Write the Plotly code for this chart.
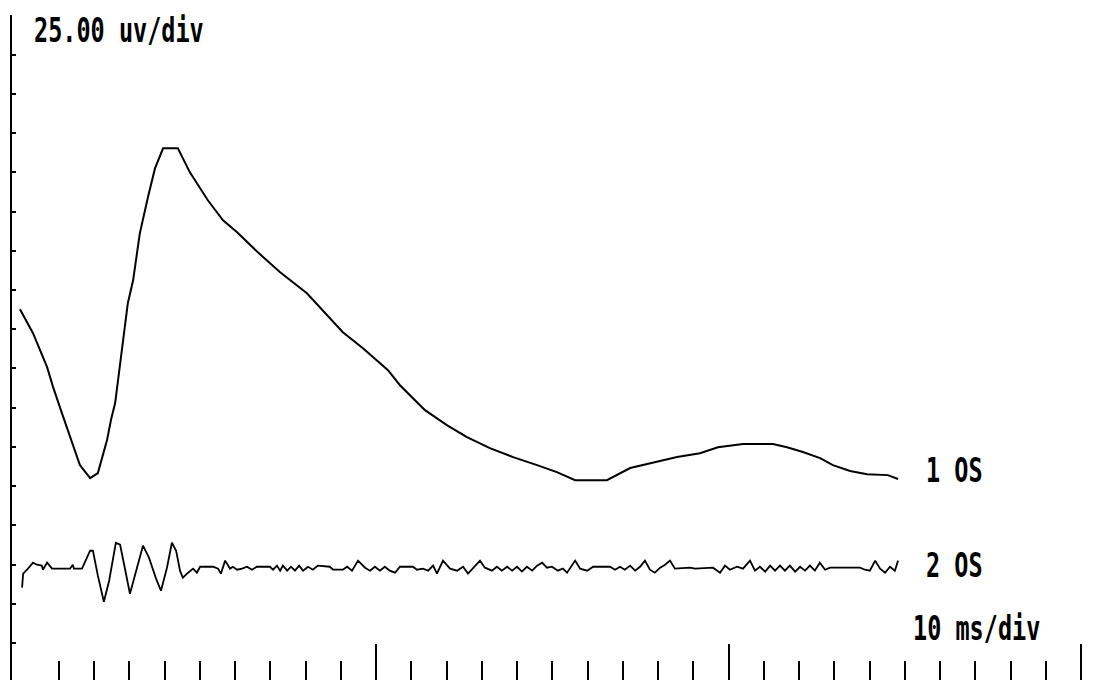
import plotly.graph_objects as go

# Channel 1: flash ERG (a-wave trough, b-wave peak), µV relative to channel baseline
time_1 = [-1.0, 2.7, 6.7, 8.4, 10.9, 13.2, 16.0, 18.9, 21.1, 23.7, 24.8, 26.0, 27.9, 29.6,
          31.1, 33.0, 35.3, 37.3, 39.6, 43.8, 47.2, 52.3, 56.6, 60.6, 66.5, 72.8, 80.4,
          90.6, 96.3, 103.4, 106.8, 113.9, 120.1, 125.8, 132.3, 138.9, 145.7, 151.3,
          156.5, 165.5, 172.1, 177.7, 185.4, 191.9, 197.0, 204.1, 212.6, 216.6, 221.1,
          226.0, 229.6, 234.5, 239.3, 245.2, 248.1]
uv_1 = [112.7, 97.5, 75.8, 63.1, 46.5, 31.2, 13.4, 5.1, 8.3, 29.3, 42.0, 52.9, 84.7, 116.6,
        131.2, 161.1, 184.1, 202.5, 215.3, 215.3, 200.0, 182.2, 169.4, 161.8, 149.0, 136.3,
        122.9, 98.1, 87.9, 73.9, 64.3, 48.4, 38.9, 31.2, 24.2, 18.5, 13.4, 8.9, 3.8, 3.8,
        11.5, 14.6, 18.5, 21.0, 24.8, 26.8, 26.8, 24.8, 21.7, 17.8, 13.4, 9.6, 7.6, 7.0, 4.5]

# Channel 2: oscillatory potentials, µV relative to channel baseline
time_2 = [-0.4, -0.1, 1.0, 2.7, 3.8, 5.2, 5.5, 6.7, 8.1, 13.2, 14.0, 14.3, 16.6, 18.0, 18.9,
          19.7, 21.1, 22.8, 24.3, 26.2, 27.4, 28.5, 30.2, 32.2, 33.9, 35.6, 37.6, 39.0, 40.7,
          42.1, 43.3, 44.4, 45.2, 46.7, 48.1, 49.2, 50.1, 53.8, 55.2, 56.0, 57.2, 58.6, 59.4,
          60.6, 62.0, 63.4, 64.8, 66.2, 69.9, 70.8, 71.9, 72.8, 73.6, 74.8, 75.9, 77.0, 78.2,
          79.3, 80.7, 82.1, 83.5, 86.9, 87.8, 90.6, 91.8, 93.2, 94.9, 96.9, 98.3, 99.7, 101.1,
          102.5, 103.9, 105.4, 106.8, 110.5, 111.6, 113.3, 114.8, 116.2, 117.3, 119.0, 121.0,
          123.0, 124.7, 126.1, 128.1, 129.5, 130.9, 132.9, 134.3, 135.7, 137.2, 138.6, 140.0,
          141.4, 142.8, 144.3, 145.7, 147.1, 148.5, 149.9, 151.6, 153.0, 154.2, 155.6, 156.5,
          157.9, 159.9, 161.6, 166.4, 167.8, 169.2, 170.6, 172.1, 173.5, 174.9, 176.3, 177.7,
          179.1, 180.6, 182.0, 183.4, 184.8, 189.1, 190.5, 195.6, 197.6, 199.0, 200.4, 202.4,
          204.1, 206.1, 207.5, 208.9, 210.4, 211.8, 213.2, 214.6, 216.0, 217.4, 218.9, 220.3,
          221.7, 223.1, 224.5, 225.9, 227.4, 228.8, 237.3, 238.7, 240.1, 241.6, 243.0, 244.4,
          245.8, 247.2, 248.1]
uv_2 = [-12.7, -3.8, -1.3, 3.2, 1.9, 1.3, -1.3, 3.2, -0.6, -0.6, 1.9, -0.6, -0.6, 6.4, 10.8,
        10.8, -5.1, -21.7, -8.3, 15.9, 14.7, 2.5, -16.6, 0.0, 14.0, 6.4, -7.0, -14.7, 0.0,
        15.9, 10.8, -1.9, -6.4, -3.2, -0.6, -3.2, 0.6, 0.6, -0.6, -3.8, 4.5, -0.6, 0.6,
        -1.3, -0.6, 0.6, -1.3, 0.6, 0.6, -1.3, 1.3, -1.9, 1.3, -1.9, 0.6, -1.9, 1.3,
        -1.9, 0.6, -1.3, 1.3, 0.6, -1.3, -1.3, 0.6, -1.9, 4.5, 0.0, -1.9, 0.6, -1.9,
        0.6, -1.9, -3.2, 0.6, 0.6, -1.3, -0.6, -1.9, 1.3, -3.8, 4.5, -0.6,
        -1.9, 0.6, -3.8, 1.3, 4.5, 0.0, -1.9, 0.6, -1.9, 0.6, -1.9, 0.6,
        -2.5, 0.6, -1.9, 1.3, 3.2, 0.0, 0.6, -1.9, -0.6, -3.2, 1.3, 4.5,
        -0.6, -1.9, 0.6, 0.6, -1.3, 0.6, -1.3, 1.3, -1.9, 0.6, 4.5, -1.3,
        -3.2, 0.0, 1.9, 4.5, -0.6, 0.0, -0.6, 0.0, -3.2, 1.3, -1.3, 0.6,
        -0.6, 4.5, -1.9, 0.6, -2.5, 1.3, -1.9, 1.3, -1.9, 1.3, -2.5, 0.6,
        -1.9, 1.3, -1.9, 3.2, -1.3, 0.0, 0.0, -1.3, -1.9, 4.5, -0.6, -3.2,
        0.6, -1.9, 4.5]

# Display baselines (µV) for stacking the two channels
BASE_1 = 100.0
BASE_2 = 48.0

# Scale: 25 µV per vertical division, 10 ms per horizontal division
UV_DIV = 25
MS_DIV = 10

W, H = 1099, 680
ML, MT = 12, 15
X_RANGE = [-3.26, 305.1]
Y_RANGE = [-23.6, 400.3]

LABEL_FONT = dict(family="DejaVu Sans Mono, monospace", size=23.5, color="black",
                  weight="bold")

fig = go.Figure()
fig.add_trace(go.Scatter(x=time_1, y=[BASE_1 + v for v in uv_1], mode="lines",
                         line=dict(color="black", width=2), hoverinfo="skip"))
fig.add_trace(go.Scatter(x=time_2, y=[BASE_2 + v for v in uv_2], mode="lines",
                         line=dict(color="black", width=1.8), hoverinfo="skip"))


def px_to_paper(px, py):
    return (px - ML) / (W - ML), (H - py) / (H - MT)


labels = [("25.00 uv/div", 33, 30.5), ("1 OS", 925, 470), ("2 OS", 925, 564.5),
          ("10 ms/div", 912, 628)]
for text, px, py in labels:
    xp, yp = px_to_paper(px, py)
    fig.add_annotation(text=text, x=xp, y=yp, xref="paper", yref="paper",
                       xanchor="left", yanchor="middle", showarrow=False,
                       borderpad=0, font=LABEL_FONT)

fig.update_layout(
    width=W, height=H,
    margin=dict(l=ML, r=0, t=MT, b=0, pad=0),
    paper_bgcolor="white", plot_bgcolor="white",
    showlegend=False,
    xaxis=dict(range=X_RANGE, showgrid=False, zeroline=False, showline=False,
               showticklabels=False, ticks="inside", tickmode="array",
               tickvals=[100, 200, 300], ticklen=36, tickwidth=1.5, tickcolor="black",
               minor=dict(ticks="inside", tickmode="array",
                          tickvals=list(range(MS_DIV, 301, MS_DIV)),
                          ticklen=19, tickwidth=1.5, tickcolor="black")),
    yaxis=dict(range=Y_RANGE, showgrid=False, zeroline=False, showline=True,
               linecolor="black", linewidth=2, showticklabels=False,
               ticks="inside", tickmode="array",
               tickvals=list(range(0, 401, UV_DIV)), ticklen=4, tickwidth=2,
               tickcolor="black"),
)

# Tall, narrow instrument-style lettering: stretch the label glyphs vertically
TALL_TEXT = ("var s=document.createElement('style');"
             "s.textContent='.annotation-text{transform-box:fill-box;"
             "transform-origin:center;transform:scaleY(1.45);}';"
             "document.head.appendChild(s);")

fig.write_html("out.html", post_script=TALL_TEXT)
